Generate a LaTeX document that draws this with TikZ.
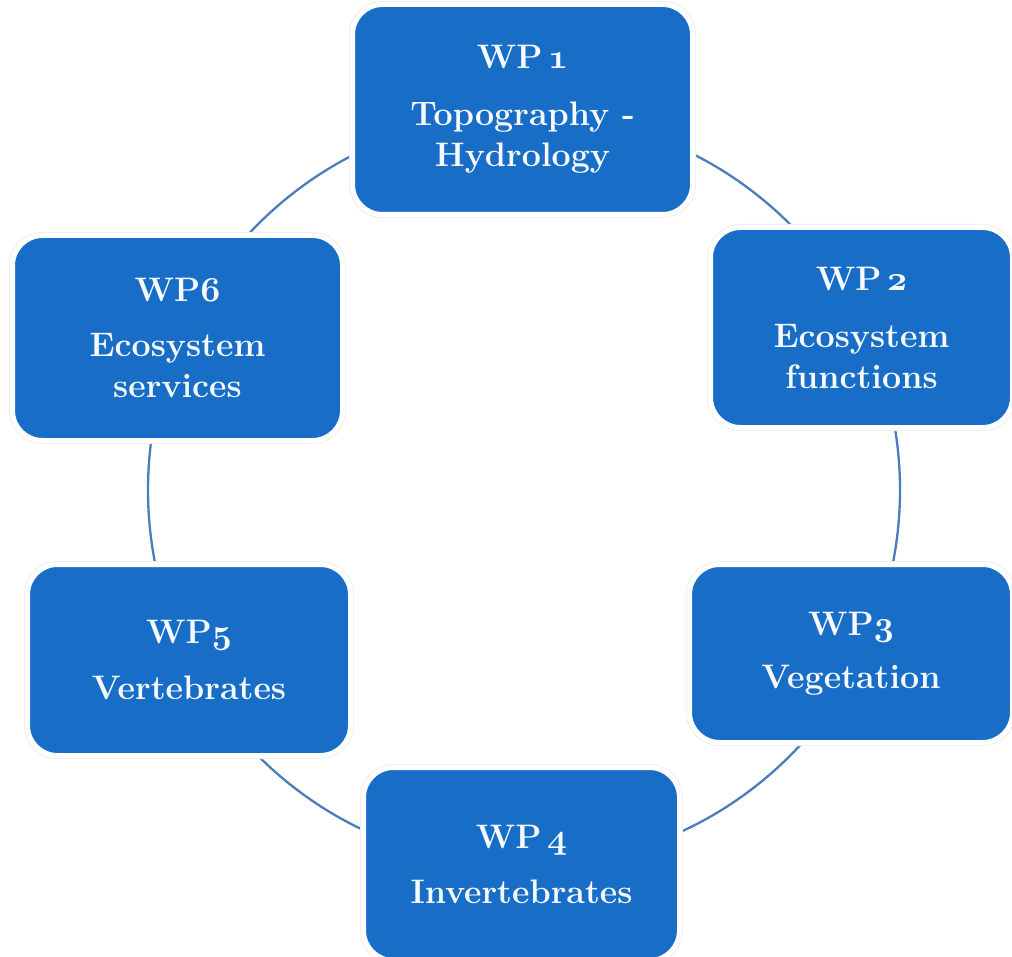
\documentclass[tikz,border=0pt]{standalone}
\usepackage{graphicx}
\definecolor{boxblue}{RGB}{24,110,198}
\definecolor{ringblue}{RGB}{74,126,187}
\definecolor{halo}{RGB}{236,239,243}
\definecolor{txt}{RGB}{246,249,253}
\newcommand{\osn}[1]{\scalebox{1.4}{\usefont{OML}{cmm}{b}{it}#1}}
\begin{document}
\begin{tikzpicture}[x=1pt,y=-1pt,
  wpbox/.style={rectangle, rounded corners=30pt, fill=boxblue, draw=white,
    line width=5pt, preaction={draw=halo, line width=7pt},
    inner sep=0pt, align=center, text=txt,
    font=\fontsize{34}{41}\selectfont\bfseries},
  ring/.style={draw=ringblue, line width=2.3pt}]
\useasboundingbox (0,0) rectangle (1012,957);
\coordinate (ctr) at (524,490);
\draw[ring] (ctr) circle[radius=376];
\node[wpbox, minimum width=340pt, minimum height=210pt] (wp1) at (522.5,109.5)
  {WP\,\osn{1}\\[16pt] Topography -\\ Hydrology};
\node[wpbox, minimum width=302pt, minimum height=200pt] (wp2) at (861.5,327.5)
  {WP\,\osn{2}\\[16pt] Ecosystem\\ functions};
\node[wpbox, minimum width=323pt, minimum height=178pt] (wp3) at (851,653.5)
  {WP\osn{3}\\[12pt] Vegetation};
\node[wpbox, minimum width=316pt, minimum height=193pt] (wp4) at (521.5,864)
  {WP\,\osn{4}\\[14pt] Invertebrates};
\node[wpbox, minimum width=323pt, minimum height=191pt] (wp5) at (189,660)
  {WP\osn{5}\\[15pt] Vertebrates};
\node[wpbox, minimum width=330pt, minimum height=205pt] (wp6) at (177.5,338)
  {WP\osn{6}\\[14pt] Ecosystem\\ services};
\end{tikzpicture}
\end{document}
